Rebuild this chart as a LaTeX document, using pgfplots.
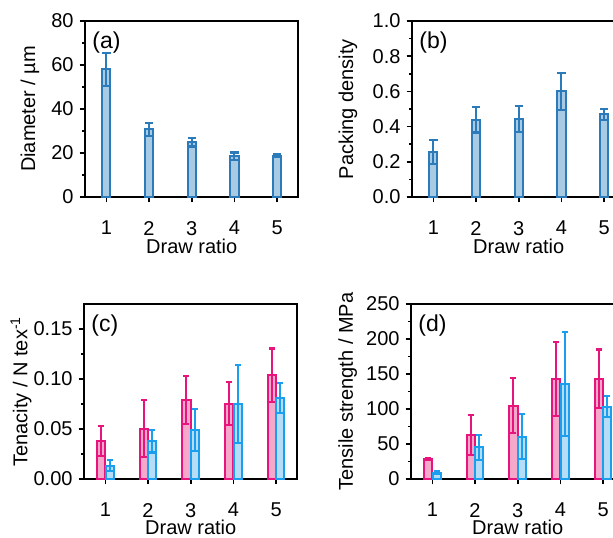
\documentclass[border=0pt]{standalone}
\usepackage{fontspec}
\setmainfont{Liberation Sans}
\usepackage{pgfplots}
\pgfplotsset{compat=1.18}
\definecolor{edgeA}{HTML}{2B7BBA}
\definecolor{fillA}{HTML}{A8CAE2}
\definecolor{edgeP}{HTML}{E8147E}
\definecolor{fillP}{HTML}{F6A8CB}
\definecolor{edgeB}{HTML}{1A9FEF}
\definecolor{fillB}{HTML}{B5DDF8}
\tikzset{plab/.style={anchor=west, inner sep=0pt, font=\fontsize{11.5}{13}\selectfont}}
\pgfplotsset{
  panel/.style={
    scale only axis, width=106.75pt, height=88pt, anchor=south west,
    xmin=0.5, xmax=5.5, xtick={1,2,3,4,5},
    axis line style={line width=1pt},
    tick style={line width=0.8pt, black},
    major tick length=2.7pt, minor tick length=1.4pt,
    tick align=outside, tick pos=left,
    minor y tick num=1, minor x tick num=0,
    /pgf/number format/assume math mode=true,
    ticklabel style={font=\fontsize{10}{12}\selectfont},
    xticklabel style={yshift=-5.8pt},
    yticklabel style={xshift=0.5pt},
    label style={font=\fontsize{10}{12}\selectfont},
    xlabel={Draw ratio},
    x label style={at={(axis description cs:0.5,-0.279)}, anchor=center},
    ybar, bar width=0.19,
    clip=false,
  },
  barA/.style={draw=edgeA, fill=fillA, line width=1pt,
    error bars/.cd, y dir=both, y explicit,
    error bar style={line width=1pt, edgeA},
    error mark options={rotate=90, mark size=2.1pt, line width=1.1pt, edgeA}},
  barP/.style={draw=edgeP, fill=fillP, line width=1pt, bar shift=-0.1,
    error bars/.cd, y dir=both, y explicit,
    error bar style={line width=1pt, edgeP},
    error mark options={rotate=90, mark size=1.5pt, line width=1.1pt, edgeP}},
  barB/.style={draw=edgeB, fill=fillB, line width=1pt, bar shift=0.1,
    error bars/.cd, y dir=both, y explicit,
    error bar style={line width=1pt, edgeB},
    error mark options={rotate=90, mark size=1.5pt, line width=1.1pt, edgeB}},
}
\begin{document}
\begin{tikzpicture}
\useasboundingbox (0pt,0pt) rectangle (306.5pt,268.5pt);
% (a)
\begin{axis}[panel, at={(42.5pt,170pt)},
  ymin=0, ymax=80, ytick={0,20,40,60,80},
  ylabel={Diameter / µm},
  y label style={at={(axis description cs:-0.258,0.5)}, anchor=center}]
\addplot[barA] coordinates {
  (1,58.0) +- (0,7.6)
  (2,30.8) +- (0,2.9)
  (3,25.0) +- (0,2.0)
  (4,18.6) +- (0,1.6)
  (5,18.8) +- (0,0.5)
};
\node[plab] at (axis description cs:0.033,0.877) {(a)};
\end{axis}
% (b)
\begin{axis}[panel, at={(206pt,170pt)},
  ymin=0, ymax=1.0, ytick={0,0.2,0.4,0.6,0.8,1.0},
  yticklabel style={/pgf/number format/.cd, fixed, fixed zerofill, precision=1},
  ylabel={Packing density},
  y label style={at={(axis description cs:-0.30,0.5)}, anchor=center}]
\addplot[barA] coordinates {
  (1,0.256) +- (0,0.070)
  (2,0.438) +- (0,0.072)
  (3,0.443) +- (0,0.072)
  (4,0.600) +- (0,0.104)
  (5,0.470) +- (0,0.032)
};
\node[plab] at (axis description cs:0.033,0.877) {(b)};
\end{axis}
% (c)
\begin{axis}[panel, at={(42pt,29pt)}, height=87.5pt,
  ymin=0, ymax=0.175, ytick={0,0.05,0.10,0.15},
  yticklabel style={/pgf/number format/.cd, fixed, fixed zerofill, precision=2},
  scaled y ticks=false,
  ylabel={Tenacity / N tex\textsuperscript{-1}},
  y label style={at={(axis description cs:-0.295,0.5)}, anchor=center}]
\addplot[barP] coordinates {
  (1,0.0379) +- (0,0.0150)
  (2,0.0502) +- (0,0.0285)
  (3,0.0787) +- (0,0.0240)
  (4,0.0754) +- (0,0.0216)
  (5,0.1040) +- (0,0.0266)
};
\addplot[barB] coordinates {
  (1,0.0133) +- (0,0.0056)
  (2,0.0379) +- (0,0.0113)
  (3,0.0488) +- (0,0.0210)
  (4,0.0751) +- (0,0.0390)
  (5,0.0810) +- (0,0.0147)
};
\node[plab] at (axis description cs:0.033,0.877) {(c)};
\end{axis}
% (d)
\begin{axis}[panel, at={(205.5pt,29pt)}, height=87.5pt,
  ymin=0, ymax=250, ytick={0,50,100,150,200,250},
  ylabel={Tensile strength / MPa},
  y label style={at={(axis description cs:-0.297,0.5)}, anchor=center}]
\addplot[barP] coordinates {
  (1,29) +- (0,1.5)
  (2,63) +- (0,29)
  (3,105) +- (0,39)
  (4,143) +- (0,53)
  (5,143) +- (0,42)
};
\addplot[barB] coordinates {
  (1,9) +- (0,2)
  (2,45.3) +- (0,17.7)
  (3,60.6) +- (0,32)
  (4,135.5) +- (0,74)
  (5,103.5) +- (0,15)
};
\node[plab] at (axis description cs:0.033,0.877) {(d)};
\end{axis}
\end{tikzpicture}
\end{document}
